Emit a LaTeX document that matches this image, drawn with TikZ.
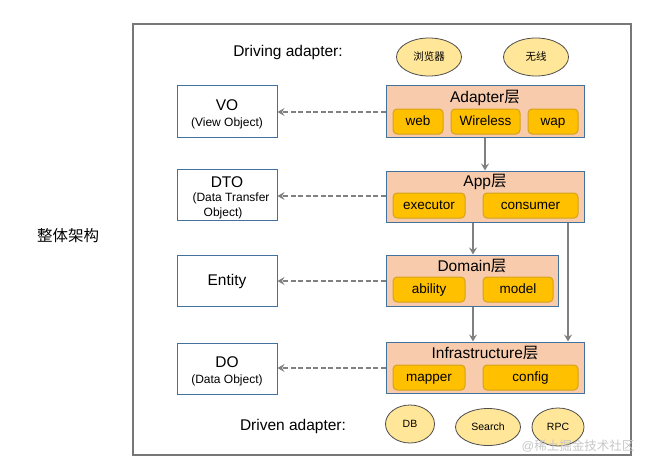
\documentclass[tikz,border=0pt]{standalone}
\usepackage{fontspec}
\setmainfont{Liberation Sans}
\newfontfamily\cjk{Noto Sans CJK SC}
\usetikzlibrary{arrows.meta,shapes.geometric}
\definecolor{frameC}{HTML}{777777}
\definecolor{layerF}{HTML}{F8CBAD}
\definecolor{blueB}{HTML}{41719C}
\definecolor{subF}{HTML}{FFC000}
\definecolor{subB}{HTML}{D6A21E}
\definecolor{ellF}{HTML}{FFE699}
\definecolor{arrC}{HTML}{808080}
\tikzset{
  layerbox/.style={draw=blueB, fill=layerF, line width=1pt, minimum height=51pt, inner sep=0pt},
  subbox/.style={draw=subB, fill=subF, rounded corners=4pt, line width=1pt, minimum height=25pt, inner sep=0pt, text height=9.8pt, text depth=2.8pt, font=\fontsize{13.5}{15}\selectfont},
  objbox/.style={draw=blueB, fill=white, line width=1pt, minimum width=100pt, minimum height=51pt, inner sep=0pt},
  ellnode/.style={ellipse, draw=black!70, fill=ellF, line width=0.8pt, inner sep=0pt, font=\fontsize{10.5}{12}\selectfont},
  dasharrow/.style={draw=arrC, line width=2pt, dash pattern=on 5pt off 2.5pt, -{Stealth[length=7pt,width=8pt,inset=2.5pt]}},
  downarrow/.style={draw=arrC, line width=2pt, -{Stealth[length=7pt,width=8pt,inset=2.5pt]}},
  bigtext/.style={inner sep=0pt, font=\fontsize{15.5}{18}\selectfont},
  smalltext/.style={inner sep=0pt, font=\fontsize{12}{14}\selectfont}
}
\begin{document}
\begin{tikzpicture}[x=1pt,y=-1pt]
\useasboundingbox (0,0) rectangle (668,468);
% frame
\node[draw=frameC, line width=2pt, minimum width=498pt, minimum height=431pt, inner sep=0pt] (frame) at (382,239.5) {};
\node[bigtext] (title) at (68,236) {\cjk 整体架构};
% driving adapter
\node[bigtext] (driving) at (288,52) {Driving adapter:};
\node[ellnode, minimum width=65pt, minimum height=38pt] (browser) at (429,57) {\cjk 浏览器};
\node[ellnode, minimum width=65pt, minimum height=38pt] (wireless) at (536,57) {\cjk 无线};
% layers
\node[layerbox, minimum width=198pt] (adapter) at (485,111.5) {};
\node[bigtext] (adaptert) at (485,98) {Adapter{\cjk 层}};
\node[subbox, minimum width=50pt] (web) at (418,121.5) {web};
\node[subbox, minimum width=69pt] (wl) at (485.5,121.5) {Wireless};
\node[subbox, minimum width=50pt] (wap) at (553,121.5) {wap};

\node[layerbox, minimum width=198pt] (app) at (485,196.5) {};
\node[bigtext] (appt) at (485,182) {App{\cjk 层}};
\node[subbox, minimum width=72pt] (executor) at (429,205.5) {executor};
\node[subbox, minimum width=95pt] (consumer) at (530.5,205.5) {consumer};

\node[layerbox, minimum width=172pt] (domain) at (472,280.5) {};
\node[bigtext] (domaint) at (472,266) {Domain{\cjk 层}};
\node[subbox, minimum width=72pt] (ability) at (429,289.5) {ability};
\node[subbox, minimum width=70pt] (model) at (518,289.5) {model};

\node[layerbox, minimum width=198pt] (infra) at (485,367.5) {};
\node[bigtext] (infrat) at (485,353) {Infrastructure{\cjk 层}};
\node[subbox, minimum width=72pt] (mapper) at (429,377.5) {mapper};
\node[subbox, minimum width=95pt] (config) at (530.5,377.5) {config};

% object boxes
\node[objbox] (vo) at (227,111.5) {};
\node[bigtext] (vot) at (227,105) {VO};
\node[smalltext] (vos) at (227,123) {(View Object)};
\node[objbox] (dto) at (227,195) {};
\node[bigtext] (dtot) at (227,182) {DTO};
\node[smalltext] (dtos1) at (231,198) {(Data Transfer};
\node[smalltext] (dtos2) at (223,213) {Object)};
\node[objbox] (entity) at (227,280.5) {};
\node[bigtext] (entityt) at (227,281) {Entity};
\node[objbox] (do) at (227,368.5) {};
\node[bigtext] (dot) at (227,362) {DO};
\node[smalltext] (dos) at (227,380) {(Data Object)};

% dashed arrows
\draw[dasharrow] ([yshift=-0.5pt]adapter.west) -- ([yshift=-0.5pt]adapter.west -| vo.east);
\draw[dasharrow] ([yshift=0.5pt]app.west) -- ([yshift=0.5pt]app.west -| dto.east);
\draw[dasharrow] ([yshift=-0.5pt]domain.west) -- ([yshift=-0.5pt]domain.west -| entity.east);
\draw[dasharrow] ([yshift=-0.5pt]infra.west) -- ([yshift=-0.5pt]infra.west -| do.east);

% down arrows
\draw[downarrow] (adapter.south) -- (app.north);
\draw[downarrow] ([xshift=1pt]app.south -| domain.north) -- ([xshift=1pt]domain.north);
\draw[downarrow] ([xshift=1pt]domain.south) -- ([xshift=1pt]infra.north -| domain.south);
\coordinate (cx) at (568,0);
\draw[downarrow] (app.south -| cx) -- (infra.north -| cx);

% driven adapter
\node[bigtext] (driven) at (293,426) {Driven adapter:};
\node[ellnode, minimum width=49pt, minimum height=38pt] (db) at (410,424) {DB};
\node[ellnode, minimum width=65pt, minimum height=37pt] (search) at (488,427) {Search};
\node[ellnode, minimum width=52pt, minimum height=38pt] (rpc) at (558,427) {RPC};

% watermark
\node[text=black!22, font=\fontsize{12.5}{14}\selectfont, inner sep=0pt] (wm) at (578,446) {@{\cjk 稀土掘金技术社区}};
\end{tikzpicture}
\end{document}
